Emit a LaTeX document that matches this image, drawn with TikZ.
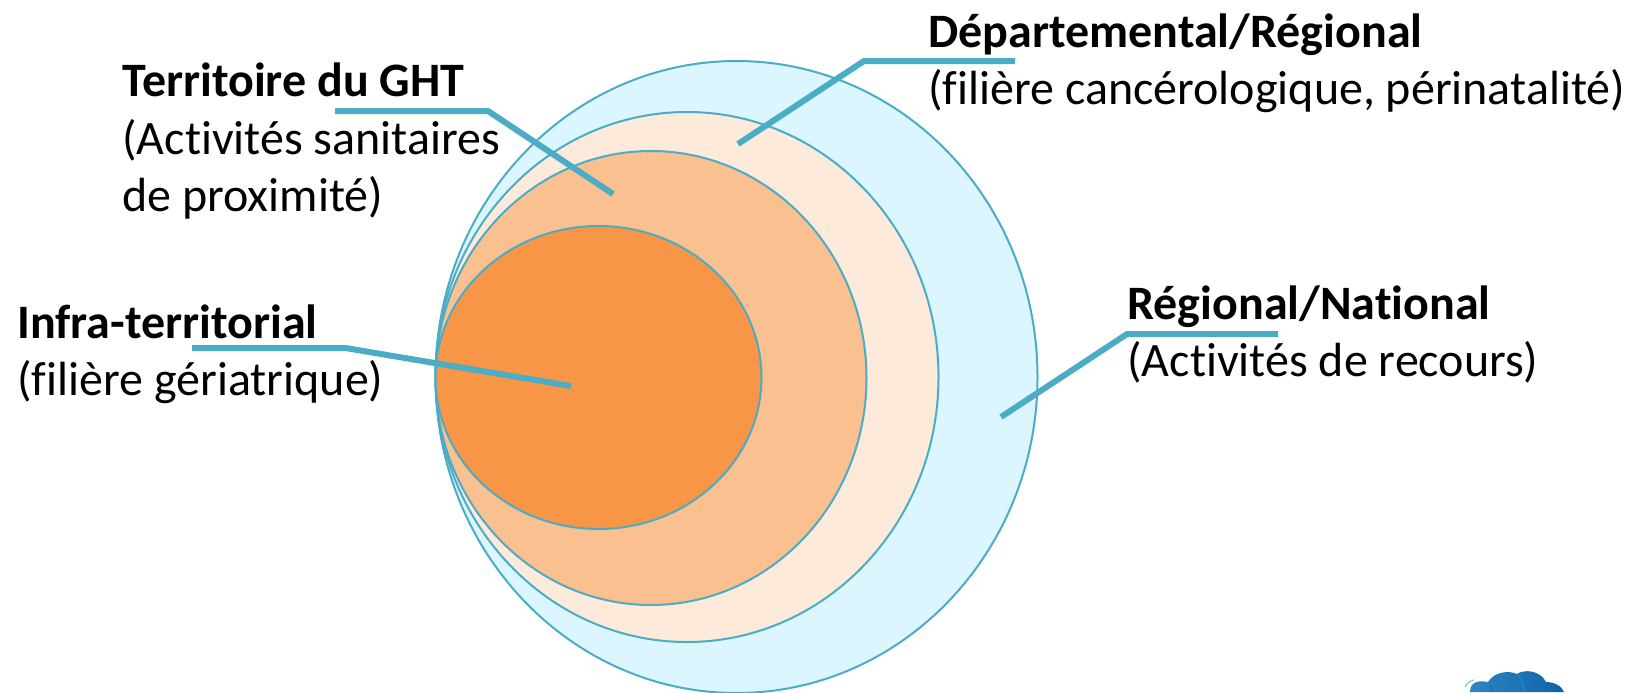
\documentclass[tikz,border=0pt]{standalone}
\usepackage{fontspec}
\setmainfont[Ligatures=NoCommon]{Carlito}
\begin{document}
\begin{tikzpicture}[x=0.5pt,y=-0.5pt,
  zone/.style={draw=lineblue,line width=1pt},
  leader/.style={draw=lineblue,line width=3pt,line join=bevel},
  lbl/.style={anchor=north west,inner sep=0pt,align=left,font=\fontsize{24}{28.75}\selectfont,text=black}]
\definecolor{lineblue}{HTML}{4BACC6}
\definecolor{zoneA}{HTML}{DCF6FF}
\definecolor{zoneB}{HTML}{FDEADA}
\definecolor{zoneC}{HTML}{FAC090}
\definecolor{zoneD}{HTML}{F79646}
\definecolor{cloudL}{HTML}{2F86C0}
\definecolor{cloudR}{HTML}{0F62A8}
\useasboundingbox (0,0) rectangle (1632,692);
\clip (0,0) rectangle (1632,692);
\path[zone,fill=zoneA] (736.5,377) ellipse [x radius=301,y radius=316];
\path[zone,fill=zoneB] (687,377) ellipse [x radius=251.5,y radius=265];
\path[zone,fill=zoneC] (651,378) ellipse [x radius=215.5,y radius=227];
\path[zone,fill=zoneD] (598.5,377.5) ellipse [x radius=163,y radius=151.5];
\node[lbl] (ght) at (122,62.5) {\textbf{Territoire du GHT}\\(Activités sanitaires\\de proximité)};
\node[lbl] (infra) at (17,304) {\textbf{Infra-territorial}\\(filière gériatrique)};
\node[lbl] (dept) at (928,13) {\textbf{Départemental/Régional}\\(filière cancérologique, périnatalité)};
\node[lbl] (reg) at (1127,285) {\textbf{Régional/National}\\(Activités de recours)};
\coordinate (a1) at (335,111);\coordinate (a2) at (488,111);\coordinate (a3) at (613,194);
\coordinate (b1) at (192,348);\coordinate (b2) at (345.5,348);\coordinate (b3) at (571,386);
\coordinate (c1) at (1015,61);\coordinate (c2) at (864,61);\coordinate (c3) at (738,144);
\coordinate (d1) at (1278,334);\coordinate (d2) at (1127,334);\coordinate (d3) at (1001,417);
\draw[leader] (a1) -- (a2) -- (a3);
\draw[leader] (b1) -- (b2) -- (b3);
\draw[leader] (c1) -- (c2) -- (c3);
\draw[leader] (d1) -- (d2) -- (d3);
\shade[left color=cloudL,right color=cloudR]
  (1470,692) .. controls (1470,682) and (1478,680) .. (1488,682)
  .. controls (1494,672) and (1508,670) .. (1517,674)
  .. controls (1524,669) and (1540,670) .. (1546,682)
  .. controls (1554,682) and (1562,686) .. (1564,692) -- cycle;
\draw[lineblue!70,line width=0.6pt] (1465,687) .. controls (1467,683) and (1470,681) .. (1474,680);
\draw[cyan!70!blue,line width=0.8pt] (1518,675) .. controls (1523,680) and (1524,686) .. (1524,692);
\draw[cyan!50!blue,line width=0.6pt] (1490,686) .. controls (1492,688) and (1493,690) .. (1493,692);
\end{tikzpicture}
\end{document}
